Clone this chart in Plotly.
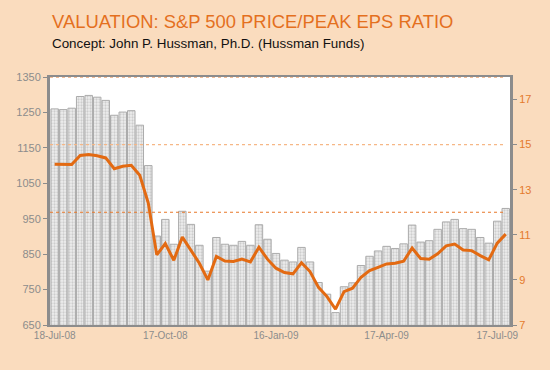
import plotly.graph_objects as go

dates = [
    "2008-07-18", "2008-07-25", "2008-08-01", "2008-08-08", "2008-08-15", "2008-08-22",
    "2008-08-29", "2008-09-05", "2008-09-12", "2008-09-19", "2008-09-26", "2008-10-03",
    "2008-10-10", "2008-10-17", "2008-10-24", "2008-10-31", "2008-11-07", "2008-11-14",
    "2008-11-21", "2008-11-28", "2008-12-05", "2008-12-12", "2008-12-19", "2008-12-26",
    "2009-01-02", "2009-01-09", "2009-01-16", "2009-01-23", "2009-01-30", "2009-02-06",
    "2009-02-13", "2009-02-20", "2009-02-27", "2009-03-06", "2009-03-13", "2009-03-20",
    "2009-03-27", "2009-04-03", "2009-04-10", "2009-04-17", "2009-04-24", "2009-05-01",
    "2009-05-08", "2009-05-15", "2009-05-22", "2009-05-29", "2009-06-05", "2009-06-12",
    "2009-06-19", "2009-06-26", "2009-07-03", "2009-07-10", "2009-07-17", "2009-07-24",
]

sp500 = [
    1260, 1258, 1262, 1295, 1298, 1293, 1284, 1242, 1251, 1255, 1214, 1100,
    901, 948, 878, 971, 934, 875, 802, 897, 878, 875, 886, 875,
    933, 892, 852, 833, 828, 869, 828, 770, 737, 685, 758, 769,
    818, 844, 859, 872, 866, 879, 932, 884, 888, 920, 941, 948,
    922, 920, 897, 881, 943, 979,
]

ratio = [
    14.13, 14.11, 14.12, 14.52, 14.56, 14.51, 14.41, 13.93, 14.04, 14.08, 13.64, 12.41,
    10.11, 10.61, 9.87, 10.90, 10.33, 9.74, 9.00, 10.04, 9.84, 9.82, 9.92, 9.80,
    10.45, 9.92, 9.52, 9.33, 9.27, 9.76, 9.37, 8.67, 8.26, 7.70, 8.48, 8.63,
    9.12, 9.41, 9.56, 9.71, 9.74, 9.83, 10.41, 9.95, 9.92, 10.16, 10.51, 10.59,
    10.33, 10.30, 10.08, 9.89, 10.63, 11.03,
]

tick_dates = ["2008-07-18", "2008-10-17", "2009-01-16", "2009-04-17", "2009-07-17"]
tick_labels = ["18-Jul-08", "17-Oct-08", "16-Jan-09", "17-Apr-09", "17-Jul-09"]
left_ticks = [650, 750, 850, 950, 1050, 1150, 1250, 1350]
right_ticks = [7, 9, 11, 13, 15, 17]
ref_levels = [15, 12, 18]
ref_colors = ["#F6B786", "#E8782A", "#E8782A"]

title_text = "VALUATION: S&P 500 PRICE/PEAK EPS RATIO"
subtitle_text = "Concept: John P. Hussman, Ph.D. (Hussman Funds)"

BG = "#FADCBE"
ORANGE = "#E36A12"
GRAY = "#8C8C8C"
FONT = "Liberation Sans, Arial, sans-serif"

fig = go.Figure()
fig.add_trace(go.Bar(
    x=dates, y=sp500, yaxis="y",
    marker=dict(
        color="#E6E6E6",
        line=dict(color="#ABABAB", width=1),
        pattern=dict(shape=".", fgcolor="#ABABAB", bgcolor="#EEEEEE", size=3, solidity=0.45),
    ),
    hoverinfo="skip",
))
fig.add_trace(go.Scatter(
    x=dates, y=ratio, yaxis="y2", mode="lines",
    line=dict(color=ORANGE, width=3),
    hoverinfo="skip",
))

shapes = []
for lvl, col in zip(ref_levels, ref_colors):
    shapes.append(dict(type="line", xref="paper", yref="y2", x0=0, x1=0.99, y0=lvl, y1=lvl,
                       line=dict(color=col, width=1.1, dash="dot"), layer="above"))

fig.update_layout(
    width=550, height=370,
    margin=dict(l=50, r=40, t=77, b=45),
    paper_bgcolor=BG, plot_bgcolor="white",
    showlegend=False,
    bargap=0.12,
    font=dict(family=FONT, color=GRAY),
    xaxis=dict(
        type="date",
        range=["2008-07-14 04:00", "2009-07-27 12:00"],
        tickvals=tick_dates, ticktext=tick_labels,
        tickfont=dict(size=10, color=GRAY),
        showline=True, linecolor=GRAY, linewidth=2, mirror=True,
        showgrid=False, ticks="", zeroline=False,
    ),
    yaxis=dict(
        range=[650, 1350], tickvals=left_ticks,
        tickfont=dict(size=11, color=GRAY),
        showline=True, linecolor=GRAY, linewidth=3,
        ticks="outside", ticklen=4, tickcolor=GRAY,
        showgrid=False, zeroline=False,
    ),
    yaxis2=dict(
        range=[7, 18], tickvals=right_ticks, overlaying="y", side="right",
        tickfont=dict(size=11, color="#E47A2C"),
        showline=True, linecolor=GRAY, linewidth=3,
        ticks="outside", ticklen=4, tickcolor=GRAY,
        showgrid=False, zeroline=False,
    ),
    shapes=shapes,
    annotations=[
        dict(text=title_text, xref="paper", yref="paper", x=0, y=1.222, xanchor="left",
             yanchor="middle", showarrow=False, font=dict(size=18.4, color="#E4701E", family=FONT)),
        dict(text=subtitle_text, xref="paper", yref="paper", x=0, y=1.135, xanchor="left",
             yanchor="middle", showarrow=False, font=dict(size=13.4, color="#111111", family=FONT)),
    ],
)

fig.write_html("out.html", config={"displayModeBar": False},
               post_script="document.body.style.margin='0';document.body.style.overflow='hidden';")
